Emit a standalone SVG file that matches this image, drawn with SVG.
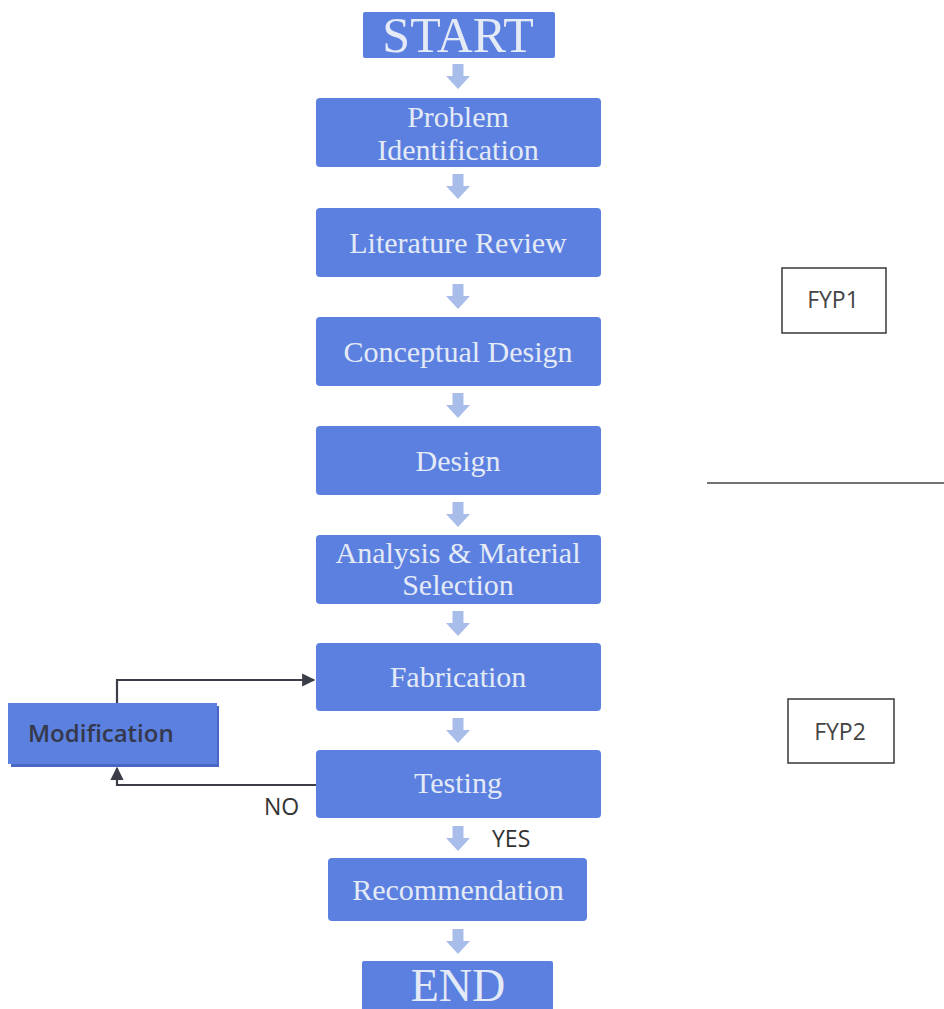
<svg xmlns="http://www.w3.org/2000/svg" width="944" height="1009" viewBox="0 0 944 1009">
<defs>
<style>
.box{fill:#5b80e0;}
.t{font-family:"Liberation Serif",serif;fill:#e4eaf6;text-anchor:middle;font-size:30px;}
.big{font-size:50px;}
.lbl{font-family:"Open Sans","Liberation Sans",sans-serif;font-size:23px;fill:#333;}
.fyp{font-family:"Open Sans","Liberation Sans",sans-serif;font-size:23px;fill:#444;text-anchor:middle;}
.frame{fill:#fff;stroke:#444;stroke-width:1.6;}
.conn{fill:none;stroke:#3b3d48;stroke-width:2.2;}
.blk{fill:#a9bdea;}
</style>
<path id="ar" d="M-5.5,0 H5.5 V12 H12 L0,25 L-12,12 H-5.5 Z"/>
<marker id="mh" viewBox="0 0 10 10" refX="9" refY="5" markerWidth="6" markerHeight="6" orient="auto-start-reverse" markerUnits="strokeWidth">
<path d="M0,0 L10,5 L0,10 Z" fill="#3b3d48"/>
</marker>
</defs>
<rect width="944" height="1009" fill="#fff"/>

<g id="connectors">
<use href="#ar" class="blk" x="458" y="64"/>
<use href="#ar" class="blk" x="458" y="174"/>
<use href="#ar" class="blk" x="458" y="284"/>
<use href="#ar" class="blk" x="458" y="393"/>
<use href="#ar" class="blk" x="458" y="502"/>
<use href="#ar" class="blk" x="458" y="611"/>
<use href="#ar" class="blk" x="458" y="718"/>
<use href="#ar" class="blk" x="458" y="826"/>
<use href="#ar" class="blk" x="458" y="929"/>
<path class="conn" d="M117,703 V680 H314" marker-end="url(#mh)"/>
<path class="conn" d="M316,785 H117 V768" marker-end="url(#mh)"/>
<text class="lbl" x="264" y="815">NO</text>
<text class="lbl" x="492" y="847">YES</text>
</g>

<g id="start"><rect class="box" x="363" y="12" width="192" height="46" rx="2"/><text class="t big" x="458" y="52">START</text></g>
<g id="problem"><rect class="box" x="316" y="98" width="285" height="69" rx="4"/><text class="t" x="458" y="127">Problem</text><text class="t" x="458" y="160">Identification</text></g>
<g id="literature"><rect class="box" x="316" y="208" width="285" height="69" rx="4"/><text class="t" x="458" y="253">Literature Review</text></g>
<g id="conceptual"><rect class="box" x="316" y="317" width="285" height="69" rx="4"/><text class="t" x="458" y="362">Conceptual Design</text></g>
<g id="design"><rect class="box" x="316" y="426" width="285" height="69" rx="4"/><text class="t" x="458" y="471">Design</text></g>
<g id="analysis"><rect class="box" x="316" y="535" width="285" height="69" rx="4"/><text class="t" x="458" y="563">Analysis &amp; Material</text><text class="t" x="458" y="595">Selection</text></g>
<g id="fabrication"><rect class="box" x="316" y="643" width="285" height="68" rx="4"/><text class="t" x="458" y="687">Fabrication</text></g>
<g id="testing"><rect class="box" x="316" y="750" width="285" height="68" rx="4"/><text class="t" x="458" y="793">Testing</text></g>
<g id="recommendation"><rect class="box" x="328" y="858" width="259" height="63" rx="4"/><text class="t" x="458" y="900">Recommendation</text></g>
<g id="end"><rect class="box" x="362" y="961" width="191" height="60" rx="2"/><text class="t" style="font-size:46px" x="458" y="1001">END</text></g>

<g id="modification"><rect x="11" y="706" width="208" height="61" fill="#4866c4"/><rect class="box" x="8" y="703" width="209" height="61"/><text class="lbl" x="28" y="742" style="font-weight:600;font-size:24px;fill:#34384a">Modification</text></g>

<g id="fyp1"><rect class="frame" x="782" y="268" width="104" height="65"/><text class="fyp" x="833" y="308">FYP1</text></g>
<line x1="707" y1="483" x2="944" y2="483" stroke="#444" stroke-width="1.6"/>
<g id="fyp2"><rect class="frame" x="788" y="699" width="106" height="64"/><text class="fyp" x="840" y="740">FYP2</text></g>
</svg>
